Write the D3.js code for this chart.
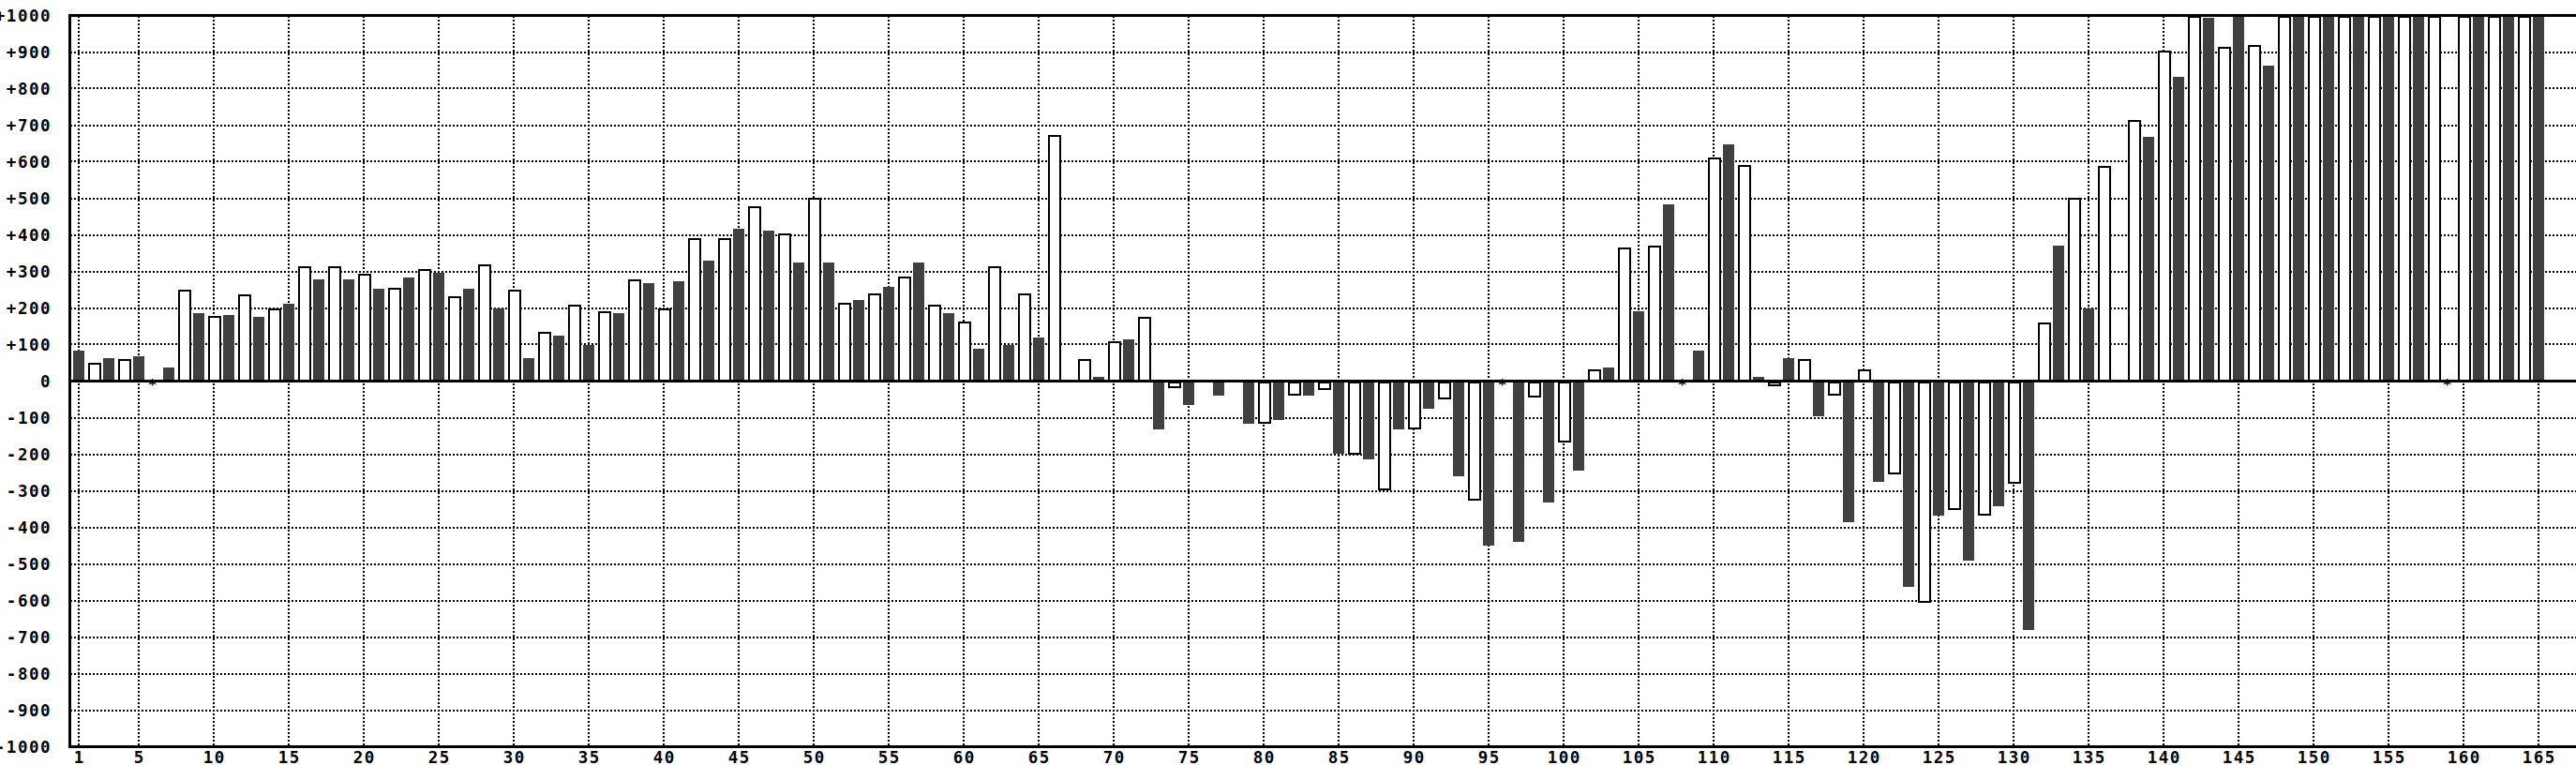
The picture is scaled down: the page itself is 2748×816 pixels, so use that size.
<!DOCTYPE html>
<html><head><meta charset="utf-8">
<script src="https://cdn.jsdelivr.net/npm/d3@7"></script>
<style>html,body{margin:0;padding:0;background:#fff;overflow:hidden}svg{display:block}</style>
</head><body><svg id="c" width="2748" height="816"></svg>
<script>
// ---- data ----
const days = d3.range(1, 166);
const values = [
  84,51,63,61,68,null,37,251,186,179,
  180,236,176,198,211,313,278,313,278,294,
  252,256,283,307,295,232,252,318,198,251,
  63,134,124,210,99,190,186,277,269,200,
  274,390,330,390,417,477,411,405,325,502,
  325,215,222,240,258,287,325,210,186,164,
  88,313,99,240,119,672,null,61,12,108,
  114,175,-132,-17,-65,null,-39,null,-116,-115,
  -106,-37,-39,-21,-199,-198,-214,-295,-131,-130,
  -75,-48,-259,-325,-449,null,-440,-43,-331,-166,
  -244,31,37,365,192,370,484,null,84,611,
  648,591,12,-12,63,61,-96,-37,-387,31,
  -275,-252,-562,-603,-367,-350,-490,-366,-342,-279,
  -680,159,371,502,199,589,null,713,668,903,
  832,1000,993,914,1000,919,863,1000,1000,1000,
  1000,1000,1000,1000,1000,1000,1000,1000,null,1000,
  1000,1000,1000,1000,1000
];
const kinds = (
  "dwdwdwdwdw" + "dwdwdwdwdw" + "dwdwdwdwdw" + "dwdwdwdwdw" +
  "dwdwdwdwdw" + "dwdwdwdwdw" + "dwdwdwdwdw" + "dwdwdwdwdw" +
  "dwdwdwdwdw" + "dwdwdwdwdw" + "dwdwdwdwdw" + "dwdwdwdwdw" +
  "dwdwdwdwdw" + "dwdwdwdwdw" + "dwdwdwdwdw" + "dwdwdwdwdw" + "dwdwd"
).split("");
const starDays = [6, 96, 108, 159];
const xTickLabels = [1,5,10,15,20,25,30,35,40,45,50,55,60,65,70,75,80,85,90,95,100,105,110,115,120,125,130,135,140,145,150,155,160,165];
const yTickValues = [-1000,-900,-800,-700,-600,-500,-400,-300,-200,-100,0,100,200,300,400,500,600,700,800,900,1000];
const yTickLabels = ["-1000","-900","-800","-700","-600","-500","-400","-300","-200","-100","0","+100","+200","+300","+400","+500","+600","+700","+800","+900","+1000"];

// ---- layout ----
const W = 2748, H = 816;
const plotLeft = 74.5, plotTop = 16.5, plotBottom = 796.5;
const x = d3.scaleLinear().domain([1, 165]).range([84, 2708]);
const y = d3.scaleLinear().domain([-1000, 1000]).range([plotBottom, plotTop]);
const DARK = "#404040";
const FONT = "'DejaVu Sans Mono', monospace";

const svg = d3.select("#c");
svg.append("rect").attr("width", W).attr("height", H).attr("fill", "#fff");

// gridlines
const grid = svg.append("g").attr("stroke", "#000").attr("stroke-width", 2)
  .attr("stroke-dasharray", "2,2").attr("shape-rendering", "crispEdges");
grid.selectAll("line.h").data(yTickValues.filter(v => v !== 0 && Math.abs(v) !== 1000))
  .join("line").attr("class", "h")
  .attr("x1", plotLeft).attr("x2", W)
  .attr("y1", d => Math.round(y(d))).attr("y2", d => Math.round(y(d)));
grid.selectAll("line.v").data(xTickLabels)
  .join("line").attr("class", "v")
  .attr("x1", d => Math.round(x(d))).attr("x2", d => Math.round(x(d)))
  .attr("y1", plotTop).attr("y2", plotBottom);

// bars
const data = days.map((d, i) => ({ day: d, v: values[i], k: kinds[i] }));
const bars = svg.append("g").attr("shape-rendering", "crispEdges");
bars.selectAll("rect.d").data(data.filter(d => d.v !== null && d.k === "d"))
  .join("rect").attr("class", "d")
  .attr("x", d => x(d.day) - 6).attr("width", 12)
  .attr("y", d => Math.min(y(d.v), y(0)))
  .attr("height", d => Math.abs(y(d.v) - y(0)))
  .attr("fill", DARK);
bars.selectAll("rect.w").data(data.filter(d => d.v !== null && d.k === "w"))
  .join("rect").attr("class", "w")
  .attr("x", d => x(d.day) - 5.5).attr("width", 12)
  .attr("y", d => Math.min(y(d.v), y(0)) + 1)
  .attr("height", d => Math.max(0, Math.abs(y(d.v) - y(0)) - 1))
  .attr("fill", "#fff").attr("stroke", "#000").attr("stroke-width", 2);

// zero line and frame
const frame = svg.append("g").attr("stroke", "#000").attr("shape-rendering", "crispEdges");
frame.append("line").attr("x1", plotLeft).attr("x2", W).attr("y1", y(0)).attr("y2", y(0)).attr("stroke-width", 2.5);
frame.append("line").attr("x1", plotLeft - 1.5).attr("x2", W).attr("y1", plotTop).attr("y2", plotTop).attr("stroke-width", 3);
frame.append("line").attr("x1", plotLeft - 1.5).attr("x2", W).attr("y1", plotBottom).attr("y2", plotBottom).attr("stroke-width", 3);
frame.append("line").attr("x1", plotLeft).attr("x2", plotLeft).attr("y1", plotTop - 1.5).attr("y2", plotBottom + 1.5).attr("stroke-width", 3);

// asterisks for special days
svg.append("g").selectAll("text").data(starDays).join("text")
  .attr("x", d => x(d) - 1.5).attr("y", y(0) + 9)
  .attr("text-anchor", "middle")
  .attr("font-family", FONT).attr("font-weight", "bold").attr("font-size", 16)
  .text("*");

// y labels
svg.append("g").selectAll("text").data(yTickValues).join("text")
  .attr("x", 55).attr("y", d => y(d) + 6.5)
  .attr("text-anchor", "end")
  .attr("font-family", FONT).attr("font-weight", "bold").attr("font-size", 17.5)
  .attr("letter-spacing", 1.5)
  .text((d, i) => yTickLabels[i]);

// x labels
svg.append("g").selectAll("text").data(xTickLabels).join("text")
  .attr("x", d => x(d) + 0.75).attr("y", 813.5)
  .attr("text-anchor", "middle")
  .attr("font-family", FONT).attr("font-weight", "bold").attr("font-size", 17.5)
  .attr("letter-spacing", 1.5)
  .text(d => String(d));
</script>
</body></html>
